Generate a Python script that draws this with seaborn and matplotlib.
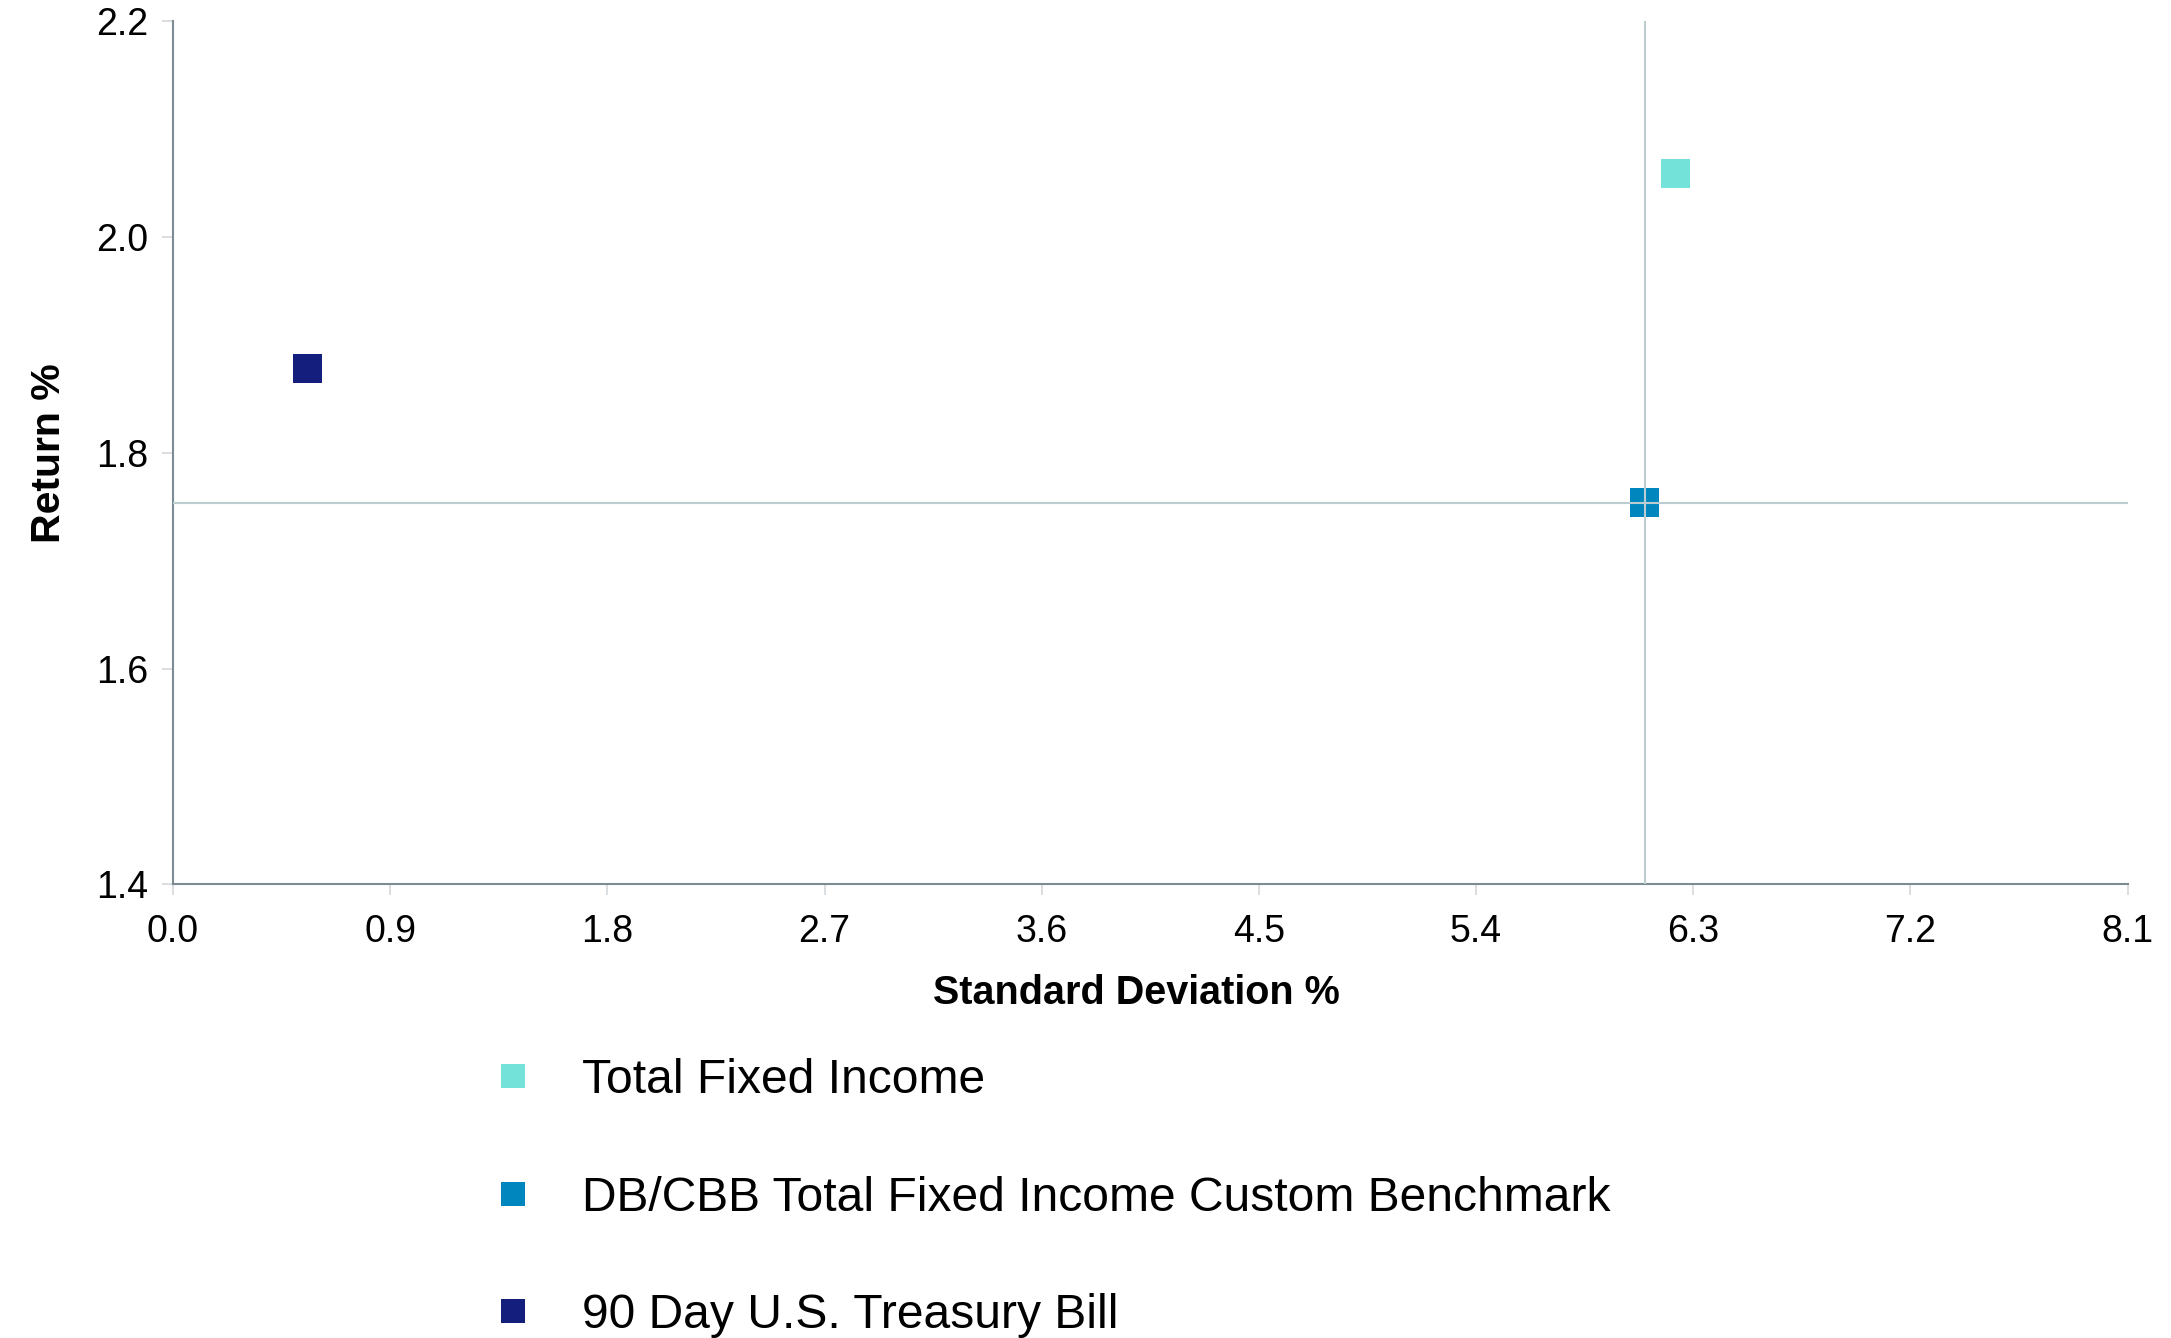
import matplotlib
matplotlib.use("Agg")
import matplotlib.pyplot as plt
import numpy as np
import pandas as pd
import seaborn as sns

names = ["Total Fixed Income",
         "DB/CBB Total Fixed Income Custom Benchmark",
         "90 Day U.S. Treasury Bill"]
std_dev = [6.225, 6.10, 0.557]
returns = [2.059, 1.754, 1.878]
colors = ["#73e2d8", "#0086be", "#141e7c"]
x_ticks = [0.0, 0.9, 1.8, 2.7, 3.6, 4.5, 5.4, 6.3, 7.2, 8.1]
y_ticks = [1.4, 1.6, 1.8, 2.0, 2.2]

sns.set_theme(style="white")
plt.rcParams['font.family'] = ['Liberation Sans', 'DejaVu Sans']

df = pd.DataFrame({"name": names, "sd": std_dev, "ret": returns})

fig = plt.figure(figsize=(21.71, 13.38), dpi=100)
ax = fig.add_axes([0.0797, 0.339, 0.9003, 0.645])

sns.scatterplot(data=df, x="sd", y="ret", hue="name", hue_order=names,
                palette=dict(zip(names, colors)), marker="s", s=436,
                linewidth=0, ax=ax, zorder=2)

# crosshair at the benchmark point
bench_x, bench_y = std_dev[1], returns[1]
ax.axvline(bench_x, color="#bccdd2", lw=1.5, zorder=3)
ax.axhline(bench_y, color="#bccdd2", lw=1.5, zorder=3)

ax.set_xlim(x_ticks[0], x_ticks[-1])
ax.set_ylim(y_ticks[0], y_ticks[-1])
ax.set_xticks(x_ticks)
ax.set_yticks(y_ticks)
ax.set_xticklabels([f"{v:.1f}" for v in x_ticks])
ax.set_yticklabels([f"{v:.1f}" for v in y_ticks])
ax.tick_params(axis="both", which="major", labelsize=27, length=8, width=1.2,
               color="#d4d8da", labelcolor="black", pad=10, direction="out")
ax.tick_params(axis="x", bottom=True, pad=13)
ax.tick_params(axis="y", left=True)

for side in ["top", "right"]:
    ax.spines[side].set_visible(False)
for side in ["left", "bottom"]:
    ax.spines[side].set_color("#7d8b92")
    ax.spines[side].set_linewidth(1.5)

ax.set_xlabel("Standard Deviation %", fontsize=28.5, fontweight="bold",
              color="black")
ax.xaxis.set_label_coords(0.493, -0.1035)
ax.set_ylabel("Return %", fontsize=29.5, fontweight="bold", color="black",
              labelpad=20)

sns.move_legend(ax, loc="upper left", bbox_to_anchor=(0.2252, 0.2093),
                bbox_transform=fig.transFigure, frameon=False, title=None,
                fontsize=34.6, markerscale=0.86, handlelength=1.0,
                handletextpad=0.93, labelspacing=1.51, borderpad=0,
                borderaxespad=0)
for t in ax.get_legend().get_texts():
    t.set_color("black")

fig.savefig("out.png", dpi=100)
